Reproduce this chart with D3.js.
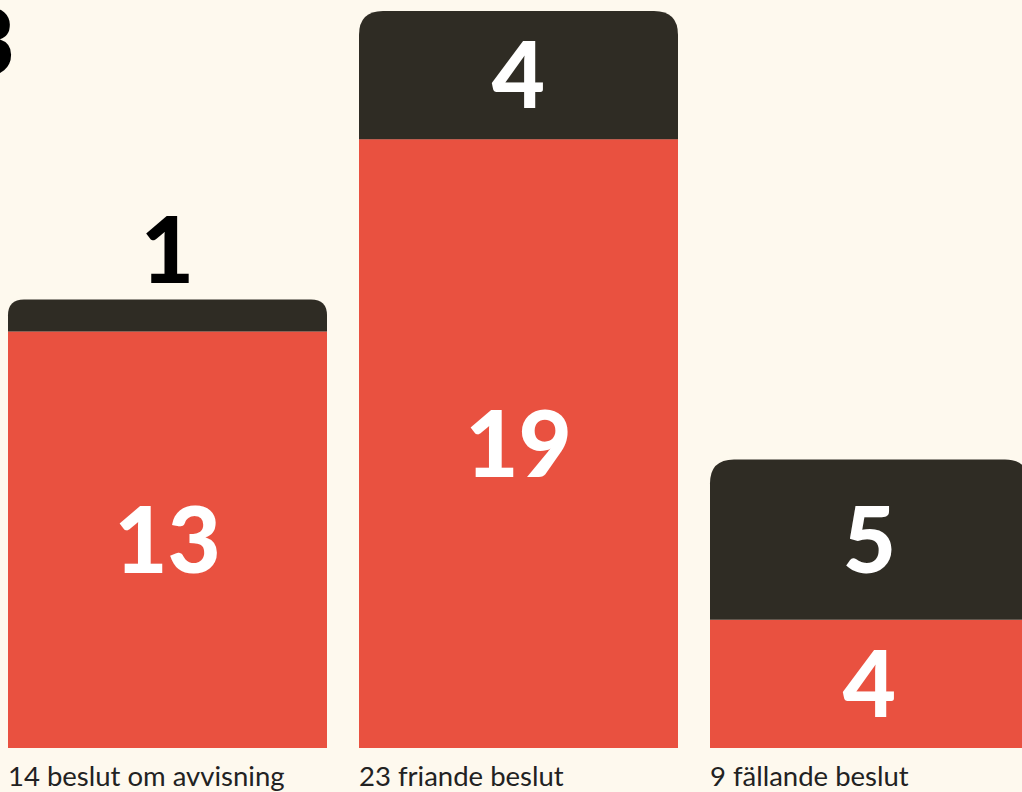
<!DOCTYPE html>
<html><head><meta charset="utf-8">
<script src="https://cdn.jsdelivr.net/npm/d3@7"></script>
<style>
html,body{margin:0;padding:0;background:#fef9ee;overflow:hidden;}
svg{display:block;}
</style></head>
<body>
<script>
const categories = ["14 beslut om avvisning", "23 friande beslut", "9 fällande beslut"];
const lowerValues = [13, 19, 4];   // red segment
const upperValues = [1, 4, 5];     // dark segment
const cornerNumber = "3";

const W = 1022, H = 792;
const RED = "#e95140", DARK = "#2f2c24", BG = "#fef9ee";
const svg = d3.select("body").append("svg").attr("width", W).attr("height", H);
svg.append("rect").attr("width", W).attr("height", H).attr("fill", BG);

const x = d3.scaleBand().domain(categories).range([8, 1029]).paddingInner(32/351).paddingOuter(0);
const y = d3.scaleLinear().domain([0, 23]).range([748, 11]);

function topRounded(x0, y0, w, h, r) {
  r = Math.min(r, h / 2, w / 2);
  return `M${x0},${y0 + h}V${y0 + r}Q${x0},${y0} ${x0 + r},${y0}H${x0 + w - r}Q${x0 + w},${y0} ${x0 + w},${y0 + r}V${y0 + h}Z`;
}

const data = categories.map((c, i) => ({c, lo: lowerValues[i], up: upperValues[i]}));
const g = svg.selectAll("g.bar").data(data).join("g").attr("class", "bar");

g.append("rect")
  .attr("x", d => x(d.c)).attr("width", x.bandwidth())
  .attr("y", d => y(d.lo)).attr("height", d => y(0) - y(d.lo))
  .attr("fill", RED);

g.append("path")
  .attr("d", d => topRounded(x(d.c), y(d.lo + d.up), x.bandwidth(), y(d.lo) - y(d.lo + d.up), 24))
  .attr("fill", DARK);

const numFont = "Lato, 'DejaVu Sans', sans-serif";
g.append("text")
  .attr("x", d => x(d.c) + x.bandwidth() / 2)
  .attr("y", d => (y(d.lo) + y(0)) / 2)
  .attr("dy", "0.36em")
  .attr("text-anchor", "middle")
  .attr("font-family", numFont).attr("font-weight", 900).attr("font-size", 92)
  .attr("fill", "#fff")
  .text(d => d.lo);

g.append("text")
  .attr("x", d => x(d.c) + x.bandwidth() / 2)
  .attr("y", d => {
    const h = y(d.lo) - y(d.lo + d.up);
    return h < 60 ? y(d.lo + d.up) - 16 : (y(d.lo) + y(d.lo + d.up)) / 2;
  })
  .attr("dy", d => (y(d.lo) - y(d.lo + d.up)) < 60 ? "0" : "0.36em")
  .attr("text-anchor", "middle")
  .attr("font-family", numFont).attr("font-weight", 900).attr("font-size", 92)
  .attr("fill", d => (y(d.lo) - y(d.lo + d.up)) < 60 ? "#000" : "#fff")
  .text(d => d.up);

g.append("text")
  .attr("x", d => x(d.c))
  .attr("y", 786)
  .attr("font-family", "Lato, sans-serif").attr("font-size", 27.5)
  .attr("fill", "#222")
  .text(d => d.c);

svg.append("text")
  .attr("x", 15).attr("y", 75)
  .attr("text-anchor", "end")
  .attr("font-family", numFont).attr("font-weight", 900).attr("font-size", 92)
  .attr("fill", "#000")
  .text(cornerNumber);
</script>
</body></html>
